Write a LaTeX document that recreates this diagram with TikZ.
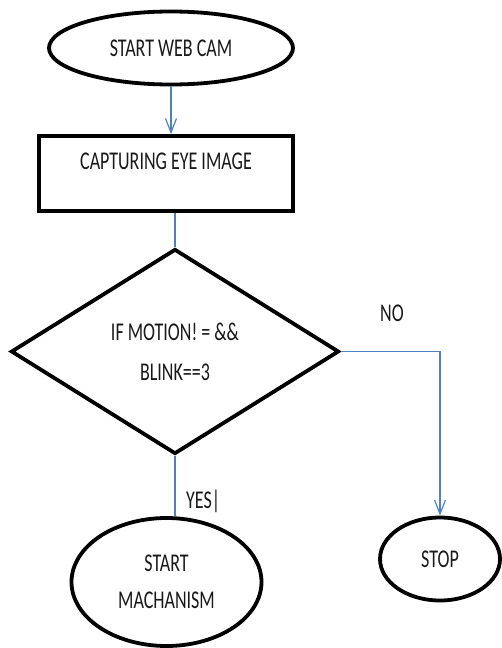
\documentclass[tikz,border=0pt]{standalone}
\usepackage{fontspec}
\setmainfont{Carlito}
\usepackage{graphicx}
\usetikzlibrary{shapes.geometric,arrows.meta}
\definecolor{flowblue}{RGB}{79,129,189}
\newcommand\tallText[1]{\scalebox{1}[1.42]{#1}}

\begin{document}
\begin{tikzpicture}[
      x=1pt,y=-1pt,
      every node/.style={font=\fontsize{18}{22}\selectfont,text=black!90},
      term box/.style={ellipse,draw,line width=3.8pt,inner sep=0pt,align=center},
      work box/.style={rectangle,draw,line width=3.8pt,inner sep=0pt},
      test box/.style={diamond,draw,line width=3.8pt,inner sep=0pt,align=center,shape aspect=1.6},
      flow line/.style={draw=flowblue,line width=1.2pt},
      flow arrow/.style={flow line,-{Straight Barb[length=14pt,width=11pt]}}
      ]
    \useasboundingbox (0,0) rectangle (501,648);
    \node[term box,minimum width=244pt,minimum height=73pt] (webcam) at (171,48) {\tallText{START WEB CAM}};
    \node[work box,minimum width=254pt,minimum height=75pt,text depth=25pt] (capture) at (166,173.5) {\tallText{CAPTURING EYE IMAGE}};
    \node[test box,minimum width=328pt,minimum height=205pt,font=\fontsize{18}{40}\selectfont] (decide) at (175,351.5)
      {\tallText{IF MOTION! = \&\&}\\\tallText{BLINK==3}};
    \node[term box,minimum width=120pt,minimum height=83pt] (stop) at (440,559) {\tallText{STOP}};
    \node[term box,minimum width=190pt,minimum height=128pt,font=\fontsize{18}{37}\selectfont] (mech) at (166.5,582)
      {\tallText{START}\\\tallText{MACHANISM}};
    % branch labels
    \node (no) at (392,313) {\tallText{NO}};
    \node[anchor=west,inner sep=0pt] (yes) at (186,501) {\tallText{YES|}};
    \draw[flow arrow] (webcam.south) -- (webcam.south |- capture.north);
    \draw[flow line] (decide.north |- capture.south) -- (decide.north);
    \draw[flow arrow] (decide.east) -| (stop.north);
    \draw[flow line] (decide.south) -- (decide.south |- mech.north);
\end{tikzpicture}
\end{document}
